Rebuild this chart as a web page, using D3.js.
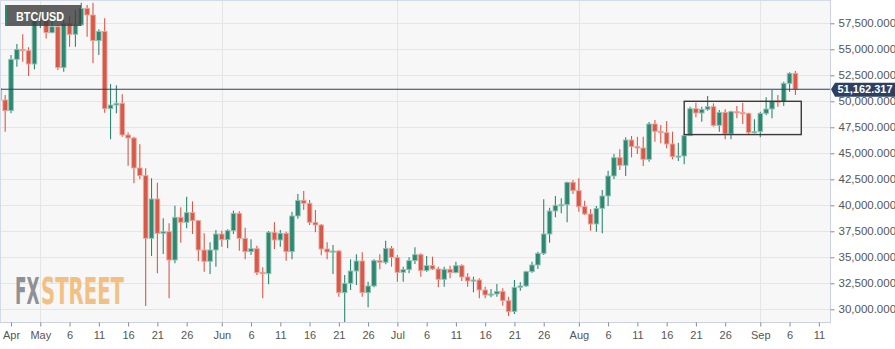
<!DOCTYPE html>
<html>
<head>
<meta charset="utf-8">
<script src="https://cdn.jsdelivr.net/npm/d3@7"></script>
<style>
  html, body { margin: 0; padding: 0; background: #ffffff; }
  svg { display: block; font-family: "Liberation Sans", Arial, sans-serif; }
</style>
</head>
<body>
<svg id="chart" width="895" height="349"></svg>
<script>
// Daily BTC/USD candles, starting 24 Apr 2021
const firstDay = "2021-04-24";
const open = [
  51247, 50125, 49100, 54035, 54997, 54870, 53586,
  57753, 57880, 56599, 57176, 53234, 57497, 56439, 57336, 58939, 58298, 55830, 56727, 49292, 49645,
  49804, 46760, 46472, 43587, 42850, 36825, 40607, 37305, 37466, 34741, 38844, 38363, 39293, 38524,
  35703, 34613, 35703,
  37240, 36696, 37561, 39228, 36825, 35543, 35831, 33556, 33427, 37402, 36664, 37306, 35543, 38972,
  40478, 40190, 38363, 38107, 35799, 35511, 35607, 31601, 32498, 33684, 34646, 31601, 32242, 34678,
  34517, 35863,
  34998, 33556, 33812, 34678, 35254, 33716, 34197, 33876, 32883, 33844, 33524, 34197, 33107, 32722,
  32818, 31857, 31376, 31473, 31729, 30832, 29774, 32113, 32242, 33620, 34261, 35383, 37242, 39452,
  39998, 40061, 42209,
  41408, 39869, 39164, 38202, 39709, 40895, 42818, 44580, 43843, 46279, 45638, 45510, 44420, 47818,
  47112, 46984, 45895, 44677, 44740, 46696, 49292, 48875, 49228, 49484, 47690, 48939, 46856, 49003,
  48907, 48843, 46984,
  47081, 48843, 49260, 50029, 49965, 51727, 52689
];
const high = [
  51800, 50605, 54450, 55510, 56440, 55190, 57977,
  58450, 57980, 58140, 57336, 57817, 58200, 58778, 59484, 59260, 59484, 56920, 57977, 51663, 51535,
  50670, 47000, 46600, 45863, 43555, 42593, 42176, 38747, 38267, 39965, 39805, 40830, 40382, 38587,
  37305, 36440, 37626,
  37561, 37690, 39484, 39420, 37850, 36729, 36100, 34037, 37530, 38363, 37626, 37466, 39389, 41088,
  41376, 40510, 39549, 38200, 36440, 36184, 35703, 33299, 34805, 35286, 35479, 32658, 34805, 35286,
  36600, 36088,
  35222, 34100, 34998, 35960, 35383, 35126, 35062, 34100, 34100, 34197, 34581, 34325, 33460, 33139,
  32979, 32178, 31953, 32434, 32018, 31216, 32818, 32594, 33716, 34581, 35543, 40574, 39773, 40895,
  40670, 42273, 42433,
  42593, 40446, 39645, 39933, 41472, 43331, 44933, 45382, 46535, 46664, 46600, 46600, 48010, 48202,
  47722, 48106, 47080, 46023, 46920, 49484, 49869, 49484, 50510, 49805, 49164, 49228, 49100, 49548,
  49869, 48907, 48266,
  49003, 50381, 51087, 50606, 51888, 52785, 52913
];
const low = [
  48800, 47080, 48843, 53330, 53810, 52433, 53073,
  57050, 56050, 56535, 53010, 52850, 55253, 55253, 57240, 56215, 53650, 54450, 48907, 46343, 48843,
  46600, 43811, 42113, 42529, 30320, 35126, 33459, 35318, 31055, 34420, 36408, 37786, 37240, 34645,
  33620, 33395, 34100,
  36023, 35863, 37240, 35639, 34805, 35222, 33299, 31056, 32402, 35799, 36023, 34677, 34805, 38716,
  39549, 38107, 37402, 35190, 34805, 33395, 31216, 28780, 31857, 32338, 31216, 30191, 32113, 33844,
  34325, 34100,
  32658, 32658, 33460, 34357, 33139, 33620, 33780, 32113, 32178, 32979, 33460, 32722, 32178, 31633,
  31056, 31056, 31152, 31216, 30351, 29357, 29550, 31793, 32178, 33523, 33876, 35222, 36408, 38843,
  39228, 38363, 41088,
  39389, 39068, 37561, 37466, 37305, 39933, 42529, 43395, 42818, 44612, 44933, 43779, 44196, 46119,
  45959, 45478, 44420, 44260, 43939, 46664, 48459, 48042, 49099, 47562, 47080, 46343, 46343, 48362,
  47818, 46856, 46920,
  46535, 48683, 48362, 49484, 49548, 50927, 50606
];
const close = [
  50125, 49100, 54035, 54997, 54870, 53586, 57753,
  57880, 56599, 57176, 53234, 57497, 56439, 57336, 58939, 58298, 55830, 56727, 49292, 49645, 49804,
  46760, 46472, 43587, 42850, 36825, 40607, 37305, 37466, 34741, 38844, 38363, 39293, 38524, 35703,
  34613, 35703, 37240,
  36696, 37561, 39228, 36825, 35543, 35831, 33524, 33427, 37402, 36664, 37306, 35543, 38972, 40478,
  40190, 38363, 38107, 35799, 35511, 35607, 31601, 32498, 33684, 34646, 31601, 32242, 34678, 34517,
  35863, 34998,
  33556, 33812, 34678, 35254, 33716, 34197, 33876, 32883, 33844, 33524, 34197, 33107, 32722, 32818,
  31857, 31376, 31473, 31729, 30832, 29774, 32113, 32242, 33620, 34261, 35383, 37242, 39452, 39998,
  40061, 42209, 41408,
  39869, 39164, 38202, 39709, 40895, 42818, 44580, 43843, 46279, 45638, 45510, 44420, 47818, 47112,
  46984, 45895, 44677, 44740, 46696, 49292, 48875, 49228, 49484, 47690, 48939, 46856, 49003, 48907,
  48843, 46984, 47081,
  48843, 49260, 50029, 49965, 51727, 52689, 51162.317
];

// Axis ticks and labels
const priceTicks = [30000, 32500, 35000, 37500, 40000, 42500, 45000, 47500, 50000, 52500, 55000, 57500];
const dateTicks = [
  "2021-04-26", "2021-05-01", "2021-05-06", "2021-05-11", "2021-05-16", "2021-05-21", "2021-05-26",
  "2021-06-01", "2021-06-06", "2021-06-11", "2021-06-16", "2021-06-21", "2021-06-26",
  "2021-07-01", "2021-07-06", "2021-07-11", "2021-07-16", "2021-07-21", "2021-07-26",
  "2021-08-01", "2021-08-06", "2021-08-11", "2021-08-16", "2021-08-21", "2021-08-26",
  "2021-09-01", "2021-09-06", "2021-09-11"
];
const dateTickLabels = [
  "Apr", "May", "6", "11", "16", "21", "26",
  "Jun", "6", "11", "16", "21", "26",
  "Jul", "6", "11", "16", "21", "26",
  "Aug", "6", "11", "16", "21", "26",
  "Sep", "6", "11"
];
const monthStarts = ["2021-05-01", "2021-06-01", "2021-07-01", "2021-08-01", "2021-09-01"];

const pair = "BTC/USD";
const lastPrice = 51162.317;

// Consolidation box drawn over the late-August range
const zoneDays = ["2021-08-19", "2021-09-08"];
const zonePrices = [46800, 50000];

// ---------------------------------------------------------------
const parse = d3.utcParse("%Y-%m-%d");
const days = d3.range(open.length).map(i => d3.utcDay.offset(parse(firstDay), i));
const candles = days.map((d, i) => ({ date: d, o: open[i], h: high[i], l: low[i], c: close[i] }));

const W = 895, H = 349;
const plotW = 830, plotB = 323;

const x = d3.scaleUtc()
  .domain([parse("2021-05-01"), parse("2021-09-01")])
  .range([40.3, 760.3]);
const y = d3.scaleLinear()
  .domain([30000, 57500])
  .range([309.3, 23.3]);

const svg = d3.select("#chart");

svg.append("defs").append("clipPath").attr("id", "plotClip")
  .append("rect").attr("x", 0).attr("y", 1).attr("width", plotW).attr("height", plotB - 1);

// plot background
svg.append("rect")
  .attr("x", 0).attr("y", 0).attr("width", plotW).attr("height", plotB)
  .attr("fill", "#f7f7f7");

// grid
const grid = svg.append("g").attr("clip-path", "url(#plotClip)");
grid.selectAll("line.h").data(priceTicks).join("line")
  .attr("class", "h")
  .attr("x1", 0).attr("x2", plotW)
  .attr("y1", d => Math.round(y(d)) + 0.5).attr("y2", d => Math.round(y(d)) + 0.5)
  .attr("stroke", "#e5e5e5").attr("stroke-width", 1);
grid.selectAll("line.v").data(monthStarts.map(parse)).join("line")
  .attr("class", "v")
  .attr("y1", 0).attr("y2", plotB)
  .attr("x1", d => Math.round(x(d)) + 0.5).attr("x2", d => Math.round(x(d)) + 0.5)
  .attr("stroke", "#e5e5e5").attr("stroke-width", 1);

// watermark: two condensed words, squeezed horizontally to their slots
const logoParts = [
  { text: "FX", left: 15, width: 24.5, fill: "#8f9196" },
  { text: "STREET", left: 41, width: 83, fill: "#f1c083" }
];
logoParts.forEach(p => {
  const t = svg.append("text")
    .attr("font-family", "'Liberation Sans Narrow', 'DejaVu Sans Condensed', 'Liberation Sans', sans-serif")
    .attr("font-weight", "bold").attr("font-size", 37)
    .attr("fill", p.fill).text(p.text);
  const natural = t.node().getComputedTextLength();
  t.attr("transform", `translate(${p.left},304) scale(${p.width / natural},1)`);
});

// candles
const up = "#2e8770", down = "#d65a4a";
const upEdge = "#94c4b6", downEdge = "#eca79e";
const bodyW = 4.6;
const cg = svg.append("g").attr("clip-path", "url(#plotClip)");
const cand = cg.selectAll("g.candle").data(candles).join("g").attr("class", "candle");
cand.append("line")
  .attr("x1", d => x(d.date)).attr("x2", d => x(d.date))
  .attr("y1", d => y(d.h)).attr("y2", d => y(d.l))
  .attr("stroke", d => d.c >= d.o ? up : down).attr("stroke-width", 1.1);
cand.append("rect")
  .attr("x", d => x(d.date) - bodyW / 2)
  .attr("width", bodyW)
  .attr("y", d => y(Math.max(d.o, d.c)))
  .attr("height", d => Math.max(1.2, Math.abs(y(d.o) - y(d.c))))
  .attr("fill", d => d.c >= d.o ? up : down)
  .attr("stroke", d => d.c >= d.o ? upEdge : downEdge)
  .attr("stroke-width", 0.9);

// last price line
svg.append("line")
  .attr("x1", 0).attr("x2", plotW)
  .attr("y1", y(lastPrice)).attr("y2", y(lastPrice))
  .attr("stroke", "#2c4162").attr("stroke-width", 1.1);

// consolidation box
svg.append("rect")
  .attr("x", x(parse(zoneDays[0])))
  .attr("y", y(zonePrices[1]))
  .attr("width", x(parse(zoneDays[1])) - x(parse(zoneDays[0])))
  .attr("height", y(zonePrices[0]) - y(zonePrices[1]))
  .attr("fill", "none").attr("stroke", "#3a3a3a").attr("stroke-width", 1.4);

// frame lines
svg.append("line").attr("x1", 0).attr("x2", plotW).attr("y1", 0.5).attr("y2", 0.5)
  .attr("stroke", "#d3daea");
svg.append("line").attr("x1", 0.5).attr("x2", 0.5).attr("y1", 0).attr("y2", plotB)
  .attr("stroke", "#d3daea");

// right price axis
const yAxis = svg.append("g")
  .attr("transform", `translate(${plotW + 0.5},0)`)
  .call(d3.axisRight(y).tickValues(priceTicks).tickFormat(d3.format(",.3f"))
    .tickSize(4).tickPadding(4).tickSizeOuter(0));
yAxis.select(".domain").attr("stroke", "#c9d1e2").attr("d", `M0,0V${plotB}`);
yAxis.selectAll(".tick line").attr("stroke", "#8a8a8a");
yAxis.selectAll(".tick text").attr("fill", "#555").attr("font-size", 11.5)
  .attr("font-family", "'Liberation Sans', Arial, sans-serif");

// bottom date axis
const xAxis = svg.append("g")
  .attr("transform", `translate(0,${plotB - 0.5})`)
  .call(d3.axisBottom(x).tickValues(dateTicks.map(parse))
    .tickFormat((d, i) => dateTickLabels[i])
    .tickSize(4).tickPadding(5).tickSizeOuter(0));
xAxis.select(".domain").attr("stroke", "#c9d1e2").attr("d", `M0,0H${plotW}`);
xAxis.selectAll(".tick line").attr("stroke", "#8a8a8a");
xAxis.selectAll(".tick text").attr("fill", "#555").attr("font-size", 11)
  .attr("font-family", "'Liberation Sans', Arial, sans-serif");

// last price tag
const ly = y(lastPrice);
svg.append("path")
  .attr("d", `M${plotW + 1},${ly} L${plotW + 5},${ly - 6.5} H${W} V${ly + 7.5} H${plotW + 5} Z`)
  .attr("fill", "#2c4162");
svg.append("text")
  .attr("x", plotW + 7.5).attr("y", ly + 4.2)
  .attr("fill", "#ffffff").attr("font-weight", "bold").attr("font-size", 11)
  .text(d3.format(",.3f")(lastPrice));

// instrument tag
const tag = svg.append("g");
tag.append("rect").attr("x", 5).attr("y", 5).attr("width", 76).attr("height", 21)
  .attr("fill", "rgba(62,62,62,0.82)");
tag.append("rect").attr("x", 5).attr("y", 5).attr("width", 2).attr("height", 21)
  .attr("fill", up);
tag.append("text").attr("x", 16).attr("y", 20.5)
  .attr("fill", "#ffffff").attr("font-size", 12.5).attr("font-weight", "bold")
  .attr("textLength", 48).attr("lengthAdjust", "spacingAndGlyphs")
  .text(pair);
</script>
</body>
</html>
